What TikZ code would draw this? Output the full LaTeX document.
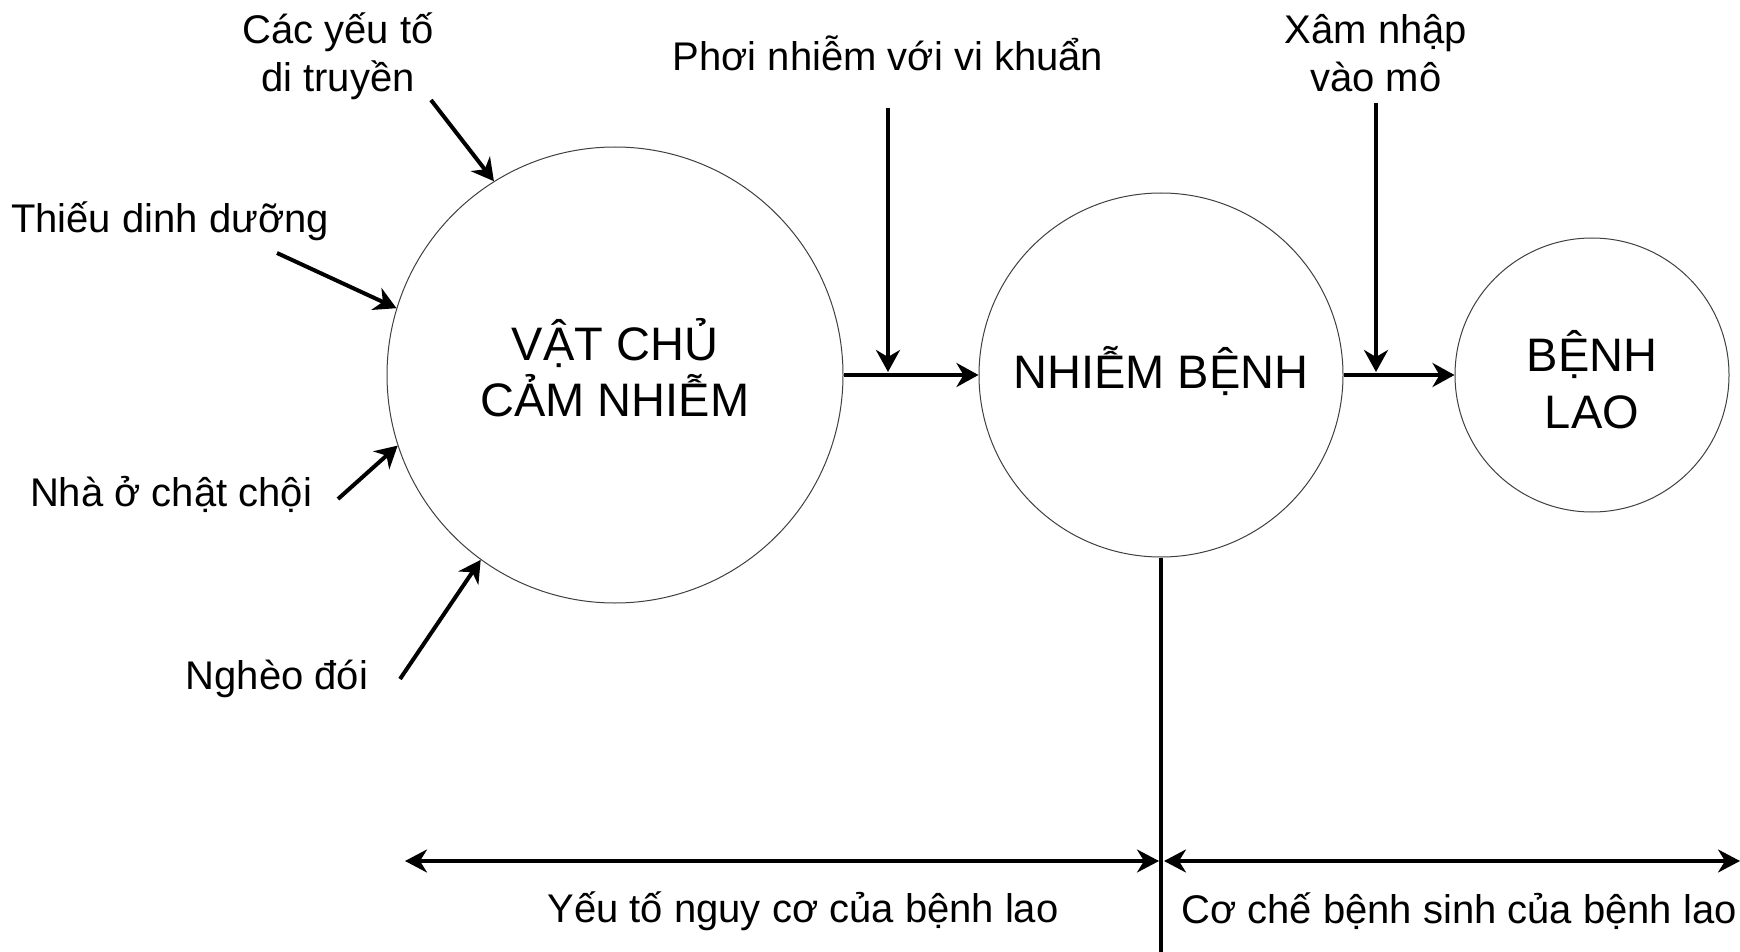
\documentclass[tikz,border=0pt]{standalone}
\usepackage{fontspec}
\setmainfont{Liberation Sans}
\usetikzlibrary{arrows.meta}
\begin{document}
\begin{tikzpicture}[x=0.5pt,y=-0.5pt,
  bubble/.style={circle, draw=black!75, line width=0.5pt, inner sep=0pt},
  bigtxt/.style={align=center, inner sep=0pt, font=\fontsize{23.5}{28}\selectfont},
  lbl/.style={align=center, inner sep=0pt, font=\fontsize{20}{24}\selectfont},
  arr/.style={line width=2pt, -{Stealth[length=11pt,width=12pt,inset=3.5pt]}},
  darr/.style={line width=1.7pt, {Stealth[length=11pt,width=11.5pt,inset=3.5pt]}-{Stealth[length=11pt,width=11.5pt,inset=3.5pt]}},
  divider/.style={line width=2pt}]
\useasboundingbox (0,0) rectangle (1740,952);
\fill[white] (0,0) rectangle (1740,952);
% circles
\node[bubble, minimum size=228pt] (c1) at (615,375) {};
\node[bubble, minimum size=182pt] (c2) at (1161,375) {};
\node[bubble, minimum size=137pt] (c3) at (1592,375) {};
\node[bigtxt] (t1) at ([yshift=3.5pt]c1.center) {VẬT CHỦ\\CẢM NHIỄM};
\node[bigtxt] (t2) at ([yshift=2pt]c2.center) {NHIỄM BỆNH};
\node[bigtxt, font=\fontsize{23.5}{28.5}\selectfont] (t3) at ([yshift=-2.5pt]c3.center) {BỆNH\\LAO};
% labels
\node[lbl] (gen) at (338,56) {Các yếu tố\\di truyền};
\node[lbl] (nut) at (170,221) {Thiếu dinh dưỡng};
\node[lbl] (hou) at (171,494) {Nhà ở chật chội};
\node[lbl] (pov) at (277,679) {Nghèo đói};
\node[lbl] (exp) at (888,53) {Phơi nhiễm với vi khuẩn};
\node[lbl] (inv) at (1376,53) {Xâm nhập\\vào mô};
\node[lbl] (risk) at (803,911) {Yếu tố nguy cơ của bệnh lao};
\node[lbl] (path) at (1459,911) {Cơ chế bệnh sinh của bệnh lao};
% free ends
\coordinate (gen-s) at (431,100);
\coordinate (nut-s) at (277,253);
\coordinate (hou-s) at (338,499);
\coordinate (pov-s) at (400,679);
\coordinate (exp-s) at (888,108);
\coordinate (exp-e) at (888,372);
\coordinate (inv-s) at (1376,103);
\coordinate (inv-e) at (1376,372);
\coordinate (div-e) at (1161,952);
\coordinate (r1) at (405,861);
\coordinate (r2) at (1159,861);
\coordinate (p1) at (1164,861);
\coordinate (p2) at (1740,861);
% connectors
\draw[arr] (gen-s) -- (c1.122.8);
\draw[arr] (nut-s) -- (c1.163.3);
\draw[arr] (hou-s) -- (c1.198.2);
\draw[arr] (pov-s) -- (c1.234.3);
\draw[arr] (c1.east) -- (c2.west);
\draw[arr] (c2.east) -- (c3.west);
\draw[arr] (exp-s) -- (exp-e);
\draw[arr] (inv-s) -- (inv-e);
\draw[divider] (c2.south) -- (div-e);
\draw[darr] (r1) -- (r2);
\draw[darr] (p1) -- (p2);
\end{tikzpicture}
\end{document}
